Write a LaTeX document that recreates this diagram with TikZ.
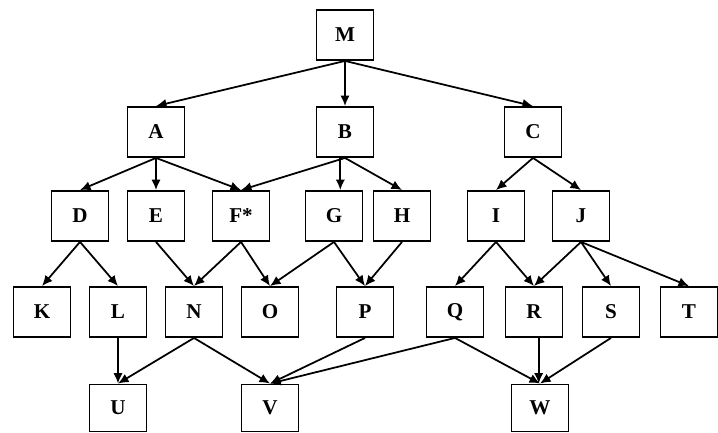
\documentclass[tikz,border=0pt]{standalone}
\usepackage{fontspec}
\setmainfont{Liberation Serif}
\usetikzlibrary{arrows.meta}
\usetikzlibrary{positioning}

\tikzset{
  box/.style={draw,line width=1.6pt,minimum width=1.71cm,minimum height=1.5cm,inner sep=0pt,font=\fontsize{18}{20}\selectfont\bfseries},
  arr/.style={line width=1.5pt,-{Latex[length=9pt,width=8pt]}}
}

\begin{document}
\begin{tikzpicture}[x=0.03cm,y=-0.03cm]
\useasboundingbox (0,0) rectangle (718,433);

% top rows
\node[box] (m) at (345,35) {M};
\node[box] (a) at (156,132) {A};
\node[box] (b) at (345,132) {B};
\node[box] (c) at (533,132) {C};

\node[box] (d) at (80,216) {D};
\node[box] (e) at (156,216) {E};
\node[box] (f) at (241,216) {F*};
\node[box] (g) at (334,216) {G};
\node[box] (h) at (402,216) {H};
\node[box] (i) at (496,216) {I};
\node[box] (j) at (581,216) {J};

\node[box] (k) at (42,312) {K};
\node[box] (l) at (118,312) {L};
\node[box] (n) at (194,312) {N};
\node[box] (o) at (270,312) {O};
\node[box] (p) at (365,312) {P};
\node[box] (q) at (455,312) {Q};
\node[box] (r) at (534,312) {R};
\node[box] (s) at (611,312) {S};
\node[box] (t) at (689,312) {T};

% bottom row
\node[box,minimum height=1.41cm] (u) at (118,408) {U};
\node[box,minimum height=1.41cm] (v) at (270,408) {V};
\node[box,minimum height=1.41cm] (w) at (540,408) {W};

\foreach \x/\y in {m/a,m/b,m/c,a/d,a/e,a/f,b/f,b/h,c/i,c/j,
  d/k,d/l,e/n,f/n,f/o,g/o,g/p,h/p,i/q,i/r,j/r,j/s,j/t,
  l/u,n/u,n/v,p/v,q/v,q/w,s/w}
  \draw[arr] (\x.south) -- (\y.north);

% straight down
\coordinate (bg) at ([xshift=-4pt]b.south);
\draw[arr] (bg) -- (bg |- g.north);
\coordinate (rw) at ([xshift=4pt]r.south);
\draw[arr] (rw) -- (rw |- w.north);

\end{tikzpicture}
\end{document}
